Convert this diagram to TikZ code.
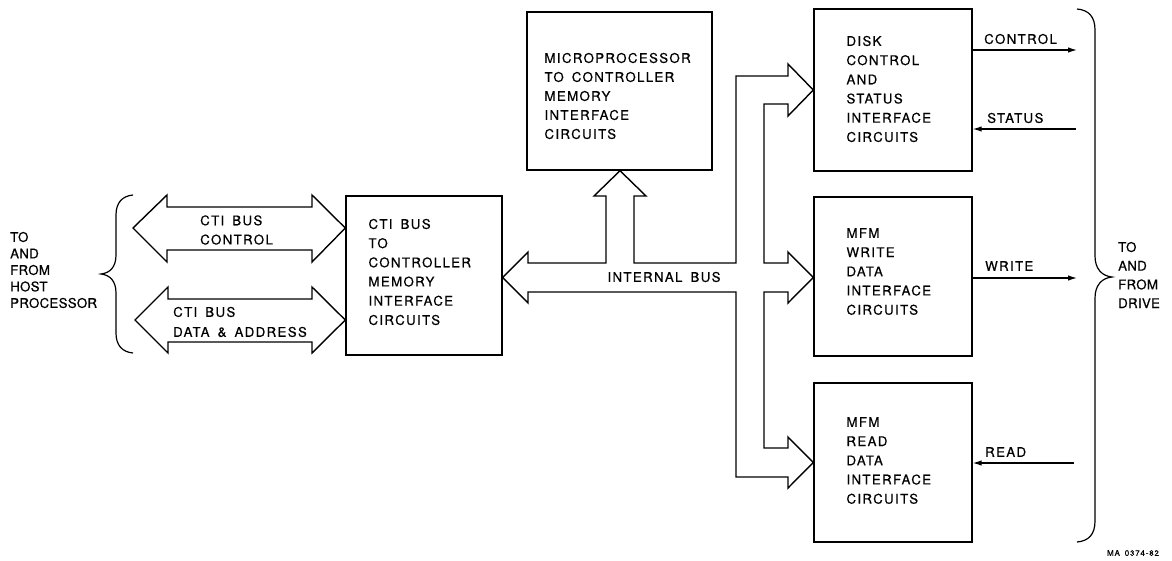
\documentclass[tikz,border=0pt]{standalone}
\usepackage{fontspec}
\setmainfont{TeX Gyre Heros}[LetterSpace=10,WordSpace=1.6,FakeBold=0.4]
\newfontfamily\tightfont{TeX Gyre Heros}[LetterSpace=2,FakeBold=0.4]
\usetikzlibrary{arrows.meta,calc}
\begin{document}
\begin{tikzpicture}[x=1pt,y=-1pt,line join=miter,
  every node/.style={font=\fontsize{13.3}{19.2}\selectfont},
  blk/.style={draw,line width=1.4pt,inner sep=0pt},
  bus/.style={draw,line width=1.4pt,line join=miter},
  sig/.style={line width=1.2pt,-{Latex[length=9pt,width=5.5pt]}},
  lbl/.style={anchor=west,inner sep=0pt,align=left},
  brc/.style={line width=1.2pt}]
\useasboundingbox (0,0) rectangle (1172,560);

% blocks
\node[blk,minimum width=156pt,minimum height=159pt] (cti) at (424,275.5) {};
\node[blk,minimum width=185pt,minimum height=158pt] (micro) at (619.5,91) {};
\node[blk,minimum width=158pt,minimum height=162pt] (disk) at (893,90) {};
\node[blk,minimum width=158pt,minimum height=159pt] (write) at (893,276.5) {};
\node[blk,minimum width=158pt,minimum height=159pt] (read) at (893,462.5) {};

% block texts
\node[lbl] (ctitxt) at ($(cti.west)+(23,-3.5)$)
  {CTI BUS\\TO\\CONTROLLER\\MEMORY\\INTERFACE\\CIRCUITS};
\node[lbl,font=\fontsize{13.3}{19}\selectfont] (microtxt) at ($(micro.west)+(18,5)$)
  {MICROPROCESSOR\\TO CONTROLLER\\MEMORY\\INTERFACE\\CIRCUITS};
\node[lbl] (disktxt) at ($(disk.west)+(33,-1)$)
  {DISK\\CONTROL\\AND\\STATUS\\INTERFACE\\CIRCUITS};
\node[lbl] (writetxt) at ($(write.west)+(33,-5)$)
  {MFM\\WRITE\\DATA\\INTERFACE\\CIRCUITS};
\node[lbl] (readtxt) at ($(read.west)+(33,-2)$)
  {MFM\\READ\\DATA\\INTERFACE\\CIRCUITS};

% CTI bus double arrows
\draw[bus] (133,228) -- (167,195) -- (167,207) -- (312,207) -- (312,195) -- (cti.west |- 0,228)
  -- (312,262) -- (312,250) -- (167,250) -- (167,262) -- cycle;
\draw[bus] (135,320) -- (168,287) -- (168,299) -- (312,299) -- (312,287) -- (cti.west |- 0,320)
  -- (312,353) -- (312,342) -- (168,342) -- (168,353) -- cycle;
\node[lbl] (ctictl) at (200,230) {CTI BUS\\CONTROL};
\node[lbl,font=\fontsize{13.3}{20}\selectfont] (ctida) at (173,322) {CTI BUS\\DATA \& ADDRESS};

% internal bus
\draw[bus] (cti.east |- 0,277.5) -- (528,252) -- (528,263) -- (606,263) -- (606,196) -- (594,196)
  -- (micro.south -| 620,0) -- (646,196) -- (634,196) -- (634,263) -- (736,263) -- (736,76)
  -- (788,76) -- (788,64) -- (disk.west) -- (788,116) -- (788,104) -- (764,104) -- (764,263)
  -- (788,263) -- (788,252) -- (write.west |- 0,277.5) -- (788,303) -- (788,292) -- (764,292)
  -- (764,448) -- (788,448) -- (788,437) -- (read.west) -- (788,488) -- (788,477)
  -- (736,477) -- (736,292) -- (528,292) -- (528,303) -- cycle;
\node[inner sep=0pt] (ibus) at (664,277) {INTERNAL BUS};

% drive signals
\coordinate (cEnd) at (1077,50);
\coordinate (sEnd) at (1076,129);
\coordinate (wEnd) at (1077,278);
\coordinate (rEnd) at (1074,463);
\draw[sig] (disk.east |- cEnd) -- (cEnd);
\draw[sig] (sEnd) -- (disk.east |- sEnd);
\draw[sig] (write.east |- wEnd) -- (wEnd);
\draw[sig] (rEnd) -- (read.east |- rEnd);
\node[lbl] (lctl) at (984,39) {CONTROL};
\node[lbl] (lsts) at (987,118) {STATUS};
\node[lbl] (lwr) at (985,266) {WRITE};
\node[lbl] (lrd) at (985,452) {READ};

% braces
\draw[brc] (133,195) .. controls (122,196) and (116,203) .. (116,215) -- (116,255)
  .. controls (116,267) and (110,273) .. (101,274)
  .. controls (110,275) and (116,281) .. (116,293) -- (116,333)
  .. controls (116,345) and (122,352) .. (133,353);
\draw[brc] (1077,9) .. controls (1089,10) and (1095,17) .. (1095,30) -- (1095,256)
  .. controls (1095,269) and (1102,276) .. (1112,277)
  .. controls (1102,278) and (1095,285) .. (1095,298) -- (1095,521)
  .. controls (1095,534) and (1089,541) .. (1077,542);

\node[lbl,font=\tightfont\fontsize{13.3}{16.5}\selectfont] (host) at (10,270)
  {TO\\AND\\FROM\\HOST\\PROCESSOR};
\node[lbl,font=\tightfont\fontsize{13.3}{18.7}\selectfont] (drive) at (1118,275)
  {TO\\AND\\FROM\\DRIVE};

\node[inner sep=0pt,font=\fontsize{8}{9}\selectfont] (ref) at (1133,553) {MA 0374-82};
\end{tikzpicture}
\end{document}
